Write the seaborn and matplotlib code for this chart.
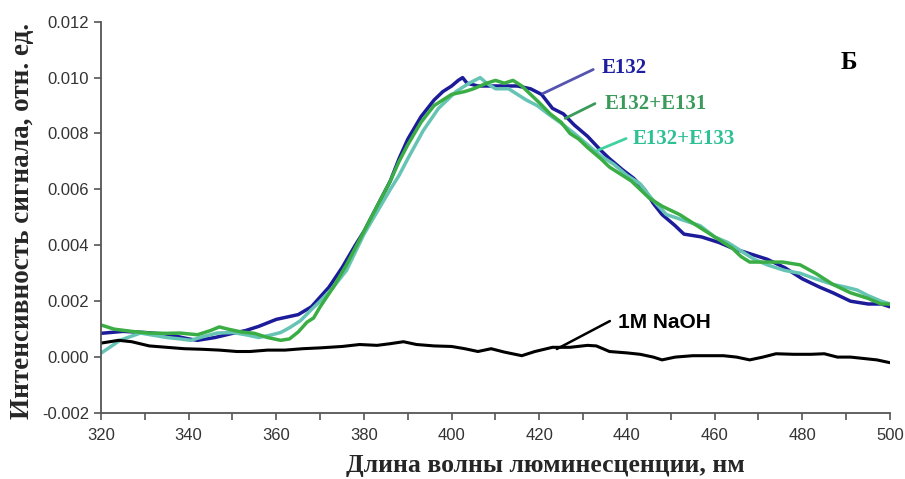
import numpy as np
import pandas as pd
import seaborn as sns
import matplotlib.pyplot as plt

# Luminescence spectra, wavelength (nm) and signal intensity (rel. units)
wl_e132 = [320, 325, 330, 335, 340, 342, 346, 350, 353, 356, 360, 365, 368, 370, 372,
           375, 378, 380, 383, 386, 388, 390, 393, 396, 398, 400, 401.5, 402.5, 403.5,
           406, 409, 412, 415, 418, 420.5, 423, 425.5, 428, 431, 434, 436, 439, 441.5,
           444, 446, 448, 451, 453, 457, 461, 464, 468, 472, 476, 480, 484, 487, 491,
           495, 498, 500]
int_e132 = [0.00085, 0.00092, 0.00088, 0.00082, 0.00065, 0.00060, 0.00070, 0.00085,
            0.00095, 0.00110, 0.00135, 0.00152, 0.00180, 0.00215, 0.0025, 0.0032, 0.0040,
            0.0045, 0.0054, 0.0063, 0.0071, 0.0078, 0.0086, 0.0092, 0.0095, 0.0097,
            0.0099, 0.0100, 0.0098, 0.0097, 0.0097, 0.0097, 0.0097, 0.0096, 0.0094,
            0.0089, 0.0087, 0.0083, 0.0079, 0.0074, 0.0071, 0.0067, 0.0064, 0.0060,
            0.0055, 0.0051, 0.0047, 0.0044, 0.0043, 0.0041, 0.0039, 0.0037, 0.0035,
            0.0032, 0.0028, 0.0025, 0.0023, 0.0020, 0.0019, 0.0019, 0.0018]

wl_e131 = [320, 323, 327, 331, 335, 338, 342, 345, 347, 349, 352, 355, 358, 361, 363,
           365, 367, 368.5, 370, 373, 376, 380, 383, 386, 388, 390, 393, 396, 398, 400,
           403, 405, 408, 410, 412, 414, 416, 418, 420, 422.5, 425, 427, 429, 431, 434,
           436, 439, 441, 443, 445, 448, 452, 455, 457, 460, 464, 466, 468, 471, 475.5,
           479.5, 483, 487, 491, 495, 498, 500]
int_e131 = [0.00115, 0.00100, 0.00092, 0.00086, 0.00085, 0.00086, 0.00080, 0.00095,
            0.00108, 0.00100, 0.00090, 0.00085, 0.00070, 0.00060, 0.00065, 0.00090,
            0.00125, 0.00140, 0.0018, 0.0025, 0.0033, 0.0045, 0.0054, 0.0063, 0.0070,
            0.0076, 0.0084, 0.0090, 0.0092, 0.0094, 0.0095, 0.0096, 0.0098, 0.0099,
            0.0098, 0.0099, 0.0097, 0.0094, 0.0091, 0.0087, 0.0084, 0.0080, 0.0078,
            0.0075, 0.0071, 0.0068, 0.0065, 0.0063, 0.0060, 0.0057, 0.0054, 0.0051,
            0.0048, 0.0046, 0.0043, 0.0039, 0.0036, 0.0034, 0.0034, 0.0034, 0.0033,
            0.0030, 0.0026, 0.0023, 0.0021, 0.0019, 0.0019]

wl_e133 = [320, 322, 324.3, 327, 329, 332, 335, 338, 340.5, 343, 346.5, 350, 353, 356,
           358.5, 361, 363, 365.5, 368, 370, 373, 376, 380, 383, 386, 388, 390, 393.5,
           397, 401, 404, 406.5, 408, 410, 413, 415, 417, 419.5, 422, 424.7, 428, 431,
           434, 437, 440, 443, 446, 449, 452.8, 456.7, 460, 463, 466, 469, 472, 476,
           479.5, 483, 487, 490, 492.5, 495, 498, 500]
int_e133 = [0.00014, 0.00035, 0.0006, 0.00075, 0.00086, 0.00078, 0.0007, 0.00065,
            0.0006, 0.00072, 0.00086, 0.00088, 0.00080, 0.00070, 0.00078, 0.00088,
            0.00105, 0.0013, 0.0017, 0.0020, 0.0025, 0.0031, 0.0044, 0.0052, 0.0060,
            0.0065, 0.0071, 0.0081, 0.0089, 0.0095, 0.0098, 0.0100, 0.0098, 0.0096,
            0.0096, 0.0094, 0.0092, 0.0090, 0.0087, 0.0084, 0.0080, 0.0076, 0.0072,
            0.0069, 0.0065, 0.0062, 0.0056, 0.0051, 0.0049, 0.0047, 0.0043, 0.0041,
            0.0038, 0.0035, 0.0033, 0.0031, 0.0030, 0.0028, 0.0026, 0.0025, 0.0024,
            0.0022, 0.0020, 0.0019]

wl_naoh = [320, 324, 327, 331, 335, 339, 343, 347, 351, 354, 358, 362, 366, 370, 375,
           379, 383, 386, 389, 392, 396, 400, 403, 406, 409, 412, 416, 419, 423, 427,
           431, 433, 436, 440, 443, 446, 448, 451, 455, 459, 462, 465, 468, 471, 474,
           478, 482, 485, 488, 491, 494, 497, 500]
int_naoh = [0.0005, 0.0006, 0.00055, 0.0004, 0.00035, 0.0003, 0.00028, 0.00025, 0.0002,
            0.0002, 0.00025, 0.00025, 0.0003, 0.00033, 0.00038, 0.00045, 0.00042,
            0.00048, 0.00055, 0.00045, 0.0004, 0.00038, 0.0003, 0.0002, 0.0003,
            0.00018, 0.00005, 0.0002, 0.00035, 0.00035, 0.00042, 0.0004, 0.0002,
            0.00015, 0.0001, 0.0, -0.0001, 0.0, 0.00005, 0.00005, 0.00005, 0.0, -0.0001,
            0.0, 0.00012, 0.0001, 0.0001, 0.00012, 0.0, 0.0, -0.00005, -0.0001, -0.0002]

series = [
    ("E132", wl_e132, int_e132, "#1c1c9a", 2.5),
    ("E132+E133", wl_e133, int_e133, "#66c4b4", 2.5),
    ("E132+E131", wl_e131, int_e131, "#3aae44", 2.5),
    ("1M NaOH", wl_naoh, int_naoh, "#000000", 2.2),
]

x_ticks = [320, 340, 360, 380, 400, 420, 440, 460, 480, 500]
y_ticks = [-0.002, 0.000, 0.002, 0.004, 0.006, 0.008, 0.010, 0.012]

sns.set_theme(style="white")
plt.rcParams["font.family"] = ["Liberation Sans", "DejaVu Sans"]

fig = plt.figure(figsize=(9.05, 4.79), dpi=100)
ax = fig.add_axes([0.1116, 0.1378, 0.8718, 0.8169])

for name, wl, vals, color, lw in series:
    df = pd.DataFrame({"wl": wl, "val": vals})
    sns.lineplot(data=df, x="wl", y="val", ax=ax, color=color, linewidth=lw,
                 estimator=None, sort=False)

ax.set_xlim(320, 500)
ax.set_ylim(-0.002, 0.012)
ax.set_xticks(x_ticks)
ax.set_xticks(np.arange(330, 500, 20), minor=True)
ax.set_yticks(y_ticks)
ax.set_yticklabels([f"{v:.3f}" for v in y_ticks])

for side in ("top", "right"):
    ax.spines[side].set_visible(False)
for side in ("left", "bottom"):
    ax.spines[side].set_color("#555555")
    ax.spines[side].set_linewidth(1.3)
ax.tick_params(axis="both", which="both", direction="out", length=5, width=1.2,
               color="#555555", labelsize=12, labelcolor="#333333",
               left=True, bottom=True)
ax.tick_params(axis="x", which="major", pad=6)

serif_bold = dict(family=["Liberation Serif", "DejaVu Serif"], weight="bold")
ax.set_xlabel("Длина волны люминесценции, нм", fontsize=18.5, **serif_bold)
ax.xaxis.set_label_coords(0.563, -0.105)
ax.set_ylabel("Интенсивность сигнала, отн. ед.", fontsize=19.5, **serif_bold)
ax.yaxis.set_label_coords(-0.084, 0.49)

# Series labels with leader lines
labels = [
    ("E132", (434.3, 0.01036), (432.3, 0.01029), (420.8, 0.00943), "#1e1ea0", "#5555b0"),
    ("E132+E131", (434.8, 0.00907), (432.7, 0.00907), (425.9, 0.00854), "#3a9a5a", "#3a9a5a"),
    ("E132+E133", (441.4, 0.00782), (439.8, 0.00782), (433.2, 0.00739), "#2ec195", "#3fd2a0"),
]
for text, tpos, p0, p1, tcol, lcol in labels:
    ax.plot([p0[0], p1[0]], [p0[1], p1[1]], color=lcol, linewidth=2)
    ax.text(tpos[0], tpos[1], text, color=tcol, fontsize=15, va="center", ha="left",
            **serif_bold)

ax.plot([436.1, 424.0], [0.00129, 0.00029], color="black", linewidth=1.8)
ax.text(438.0, 0.00125, "1M NaOH", color="black", fontsize=15, va="center", ha="left",
        family=["Liberation Sans", "DejaVu Sans"], weight="bold")

ax.text(490.7, 0.01054, "Б", color="black", fontsize=18, va="center", ha="center",
        **serif_bold)

fig.savefig("out.png", dpi=100)
